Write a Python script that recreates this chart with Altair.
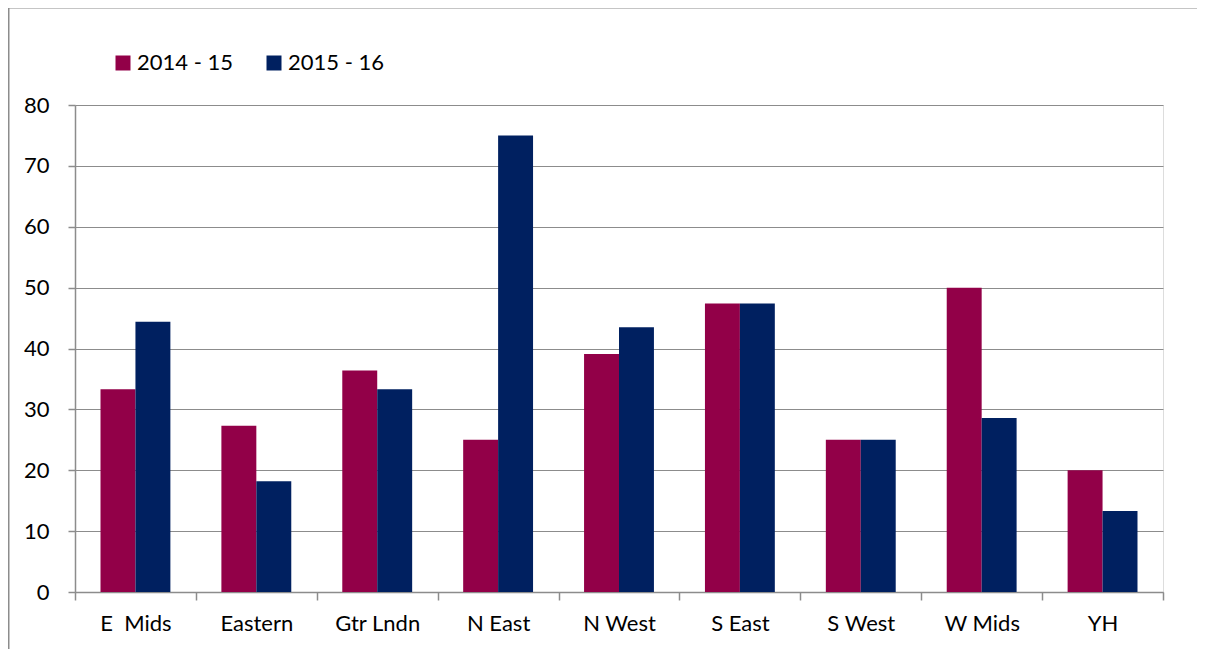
import altair as alt
import pandas as pd

regions = ["E \u00a0Mids", "Eastern", "Gtr Lndn", "N East", "N West", "S East", "S West", "W Mids", "YH"]
series = ["2014 - 15", "2015 - 16"]
vals_1415 = [33.3, 27.3, 36.4, 25.0, 39.1, 47.4, 25.0, 50.0, 20.0]
vals_1516 = [44.4, 18.2, 33.3, 75.0, 43.5, 47.4, 25.0, 28.6, 13.3]
colors = ["#920048", "#002060"]
y_ticks = [0, 10, 20, 30, 40, 50, 60, 70, 80]

rows = []
for r, a, b in zip(regions, vals_1415, vals_1516):
    rows.append({"region": r, "series": series[0], "value": a})
    rows.append({"region": r, "series": series[1], "value": b})
df = pd.DataFrame(rows)

FONT = "Lato"
FS = 22
GRID = "#8c8c8c"

bars = alt.Chart(df).mark_bar().encode(
    x=alt.X("region:N", sort=regions, title=None,
            scale=alt.Scale(paddingInner=0, paddingOuter=0),
            axis=alt.Axis(labelAngle=0, labelFont=FONT, labelFontSize=FS, labelColor="#000000",
                          labelPadding=13, tickBand="extent", tickSize=8, tickColor=GRID,
                          domainColor=GRID, domainWidth=1.5, tickWidth=1.5, grid=False)),
    xOffset=alt.XOffset("series:N", sort=series,
                        scale=alt.Scale(paddingOuter=0.73, paddingInner=0)),
    y=alt.Y("value:Q", title=None,
            scale=alt.Scale(domain=[0, 80], nice=False),
            axis=alt.Axis(values=y_ticks, labelFont=FONT, labelFontSize=FS, labelColor="#000000",
                          labelPadding=19, tickSize=7, tickColor=GRID, domainColor=GRID,
                          domainWidth=1.5, tickWidth=1.5, gridColor=GRID, gridWidth=1)),
    color=alt.Color("series:N", sort=series,
                    scale=alt.Scale(domain=series, range=colors),
                    legend=alt.Legend(title=None, orient="none", direction="horizontal",
                                      legendX=37, legendY=-53, symbolType="square",
                                      symbolSize=225, symbolStrokeWidth=0, symbolOpacity=1,
                                      labelFont=FONT, labelFontSize=FS, labelColor="#000000",
                                      columnPadding=30, labelOffset=3)),
)

frame_data = alt.Data(values=[{}])
top_line = alt.Chart(frame_data).mark_rule(color=GRID, strokeWidth=1.5).encode(
    x=alt.value(-66.25), x2=alt.value(1200), y=alt.value(-97.25),
)
left_line = alt.Chart(frame_data).mark_rule(color=GRID, strokeWidth=1.5).encode(
    x=alt.value(-66.25), y=alt.value(-97.25), y2=alt.value(700),
)

chart = alt.layer(top_line, left_line, bars).properties(
    width=1088, height=487,
    padding={"left": 67, "top": 97, "right": 34, "bottom": 57},
    autosize=alt.AutoSizeParams(type="none"),
).configure_view(stroke=None).configure(background="white")

chart.save("out.html", embed_options={"renderer": "svg", "actions": False})
